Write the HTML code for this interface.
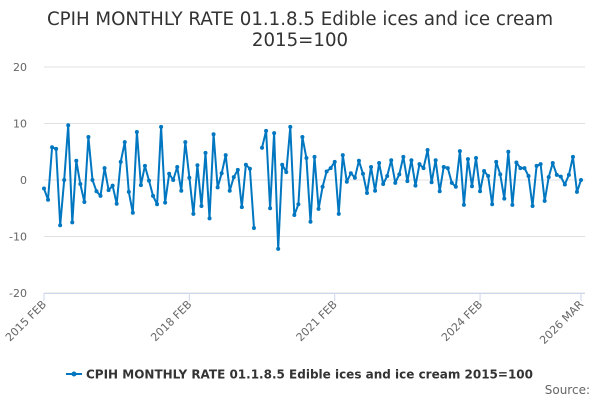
<!DOCTYPE html>
<html><head><meta charset="utf-8"><style>
body{margin:0;background:#fff;font-family:"DejaVu Sans",sans-serif;}
svg text{font-family:"DejaVu Sans",sans-serif;}
</style></head><body>
<svg id="c" width="600" height="400">
<text x="300" y="25" text-anchor="middle" font-size="18.2" fill="#333">CPIH MONTHLY RATE 01.1.8.5 Edible ices and ice cream</text>
<text x="300" y="46" text-anchor="middle" font-size="18.2" fill="#333">2015=100</text>
<g id="grid"></g><g id="xaxis"></g><g id="series"></g>
<g>
<line x1="66" y1="374" x2="82" y2="374" stroke="#0077c0" stroke-width="2"/>
<circle cx="74" cy="374" r="2.5" fill="#0077c0"/>
<text x="86" y="378.5" font-size="12" font-weight="bold" fill="#333" textLength="447" lengthAdjust="spacingAndGlyphs">CPIH MONTHLY RATE 01.1.8.5 Edible ices and ice cream 2015=100</text>
</g>
<text x="590" y="394" text-anchor="end" font-size="12" fill="#666">Source:</text>
</svg>
<script>
const yTicks=[20,10,0,-10,-20];
const xTickIdx=[0,36,72,108,133];
const xTickLabels=["2015 FEB","2018 FEB","2021 FEB","2024 FEB","2026 MAR"];
const values=[-1.5,-3.5,5.8,5.5,-8,0,9.7,-7.5,3.4,-0.7,-3.9,
7.6,0,-2,-2.8,2.1,-1.8,-1,-4.2,3.2,6.7,-2.1,-5.8,
8.5,-0.9,2.5,-0.1,-2.8,-4.3,9.4,-4,1.1,0,2.3,-1.9,
6.7,0.4,-6,2.6,-4.6,4.8,-6.8,8.1,-1.3,1.2,4.4,-1.9,
0.5,1.8,-4.8,2.7,2,-8.5,null,5.7,8.7,-5,8.3,-12.2,
2.7,1.4,9.4,-6.2,-4.3,7.6,3.9,-7.4,4.1,-5.1,-1.2,1.5,
2.1,3.2,-6,4.4,-0.3,1.2,0.4,3.4,1.1,-2.3,2.3,-1.9,
3,-0.7,0.7,3.5,-0.5,1,4.1,-0.2,3.5,-1,2.8,2.1,
5.3,-0.4,3.5,-2,2.3,2.1,-0.5,-1.2,5.1,-4.4,3.7,-1.1,
3.9,-2,1.6,0.7,-4.3,3.2,1,-3.3,5,-4.4,3.1,2.1,
2.1,0.7,-4.6,2.5,2.8,-3.7,0.5,3,0.9,0.6,-0.8,0.9,
4.1,-2.1,0];
const NS="http://www.w3.org/2000/svg";
const x0=44,x1=581,yTop=67,yBot=293;
const xs=i=>x0+(x1-x0)*i/(values.length-1);
const ys=v=>yTop+(20-v)/40*(yBot-yTop);
function mk(tag,attrs,parent){const e=document.createElementNS(NS,tag);for(const k in attrs)e.setAttribute(k,attrs[k]);parent.appendChild(e);return e;}
const grid=document.getElementById('grid');
yTicks.forEach(t=>{
 const l=mk('line',{x1:x0,x2:x1+4,y1:ys(t),y2:ys(t),stroke:'#e0e0e0','stroke-width':1},grid);
 
 
 const tx=mk('text',{x:27,y:ys(t)+4,'text-anchor':'end','font-size':11,fill:'#666'},grid);
 tx.textContent=t;
 
 
});
const xa=document.getElementById('xaxis');
const ax=mk('line',{x1:x0,x2:x1+4,y1:yBot+0.5,y2:yBot+0.5,stroke:'#ccd6eb'},xa);


xTickIdx.forEach((idx,k)=>{
 const x=xs(idx);
 const tk=mk('line',{x1:x,x2:x,y1:yBot,y2:yBot+8,stroke:'#ccd6eb'},xa);
 
 
 const t=mk('text',{x:x+3,y:yBot+12,'text-anchor':'end','font-size':11,fill:'#666',transform:`rotate(-45 ${x+3} ${yBot+12})`},xa);
 t.textContent=xTickLabels[k];
 
 
});
const s=document.getElementById('series');
let d='',pen=false;
values.forEach((v,i)=>{if(v===null){pen=false;return;}d+=(pen?'L':'M')+xs(i).toFixed(1)+' '+ys(v).toFixed(1);pen=true;});
const p=mk('path',{d:d,fill:'none',stroke:'#0077c0','stroke-width':2,'stroke-linejoin':'round'},s);


values.forEach((v,i)=>{if(v===null)return;
 const c=mk('circle',{cx:xs(i),cy:ys(v),r:2,fill:'#0077c0'},s);
 
 
});
</script>
</body></html>
